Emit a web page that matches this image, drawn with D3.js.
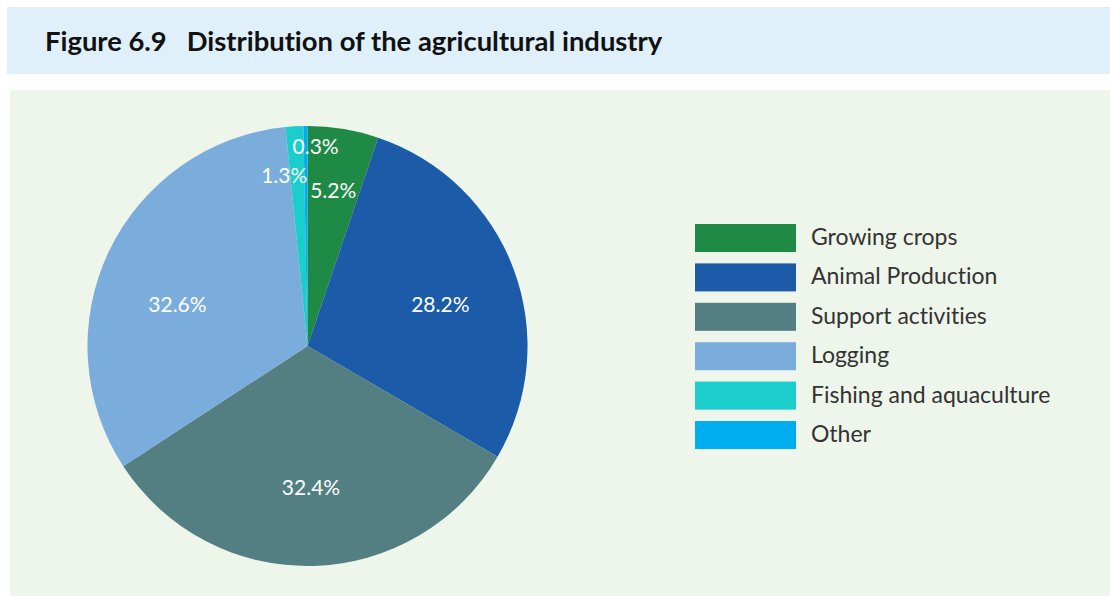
<!DOCTYPE html>
<html>
<head>
<meta charset="utf-8">
<script src="https://cdn.jsdelivr.net/npm/d3@7"></script>
<style>
    body { margin: 0; background: #ffffff; }
    svg { display: block; }
    text { font-variant-ligatures: none; }
</style>
</head>
<body>
<div id="chart"></div>
<script>
const categories = ["Growing crops", "Animal Production", "Support activities", "Logging", "Fishing and aquaculture", "Other"];
const shares = [5.2, 28.2, 32.4, 32.6, 1.3, 0.3];
const sliceColours = ["#1e8a45", "#1b5ba8", "#537e82", "#7aacdc", "#1bcdcd", "#00aeef"];
const title = "Figure 6.9   Distribution of the agricultural industry";

const width = 1110;
const height = 596;

const svg = d3.select("#chart")
    .append("svg")
    .attr("width", width)
    .attr("height", height);

// Title band
svg.append("rect")
    .attr("x", 7).attr("y", 7)
    .attr("width", width - 7).attr("height", 67)
    .attr("fill", "#dff0fb");

svg.append("text")
    .attr("x", 45).attr("y", 51)
    .attr("font-family", "Lato, sans-serif")
    .attr("font-weight", "bold")
    .attr("font-size", 27.4)
    .attr("fill", "#111")
    .attr("xml:space", "preserve")
    .text(title);

// Chart panel
svg.append("rect")
    .attr("x", 10).attr("y", 90)
    .attr("width", width - 10).attr("height", height - 90)
    .attr("fill", "#eef5ea");

const colour = d3.scaleOrdinal().domain(categories).range(sliceColours);

const radius = 220;
const pieGroup = svg.append("g")
    .attr("transform", "translate(307.5,346)");

const pie = d3.pie()
    .value(d => d.value)
    .sort(null);

const data = categories.map((c, i) => ({ name: c, value: shares[i] }));
const arcs = pie(data);

const arc = d3.arc().innerRadius(0).outerRadius(radius);

pieGroup.selectAll("path")
    .data(arcs)
    .join("path")
    .attr("d", arc)
    .attr("fill", d => colour(d.data.name));

// labels: thin slices pushed further out, a few nudged by hand
function labelRadius(d) {
    if (d.data.value < 1) return 0.91 * radius;
    if (d.data.value < 2) return 0.78 * radius;
    if (d.data.value < 10) return 0.72 * radius;
    return 0.63 * radius;
}
const labelNudge = {
    "Other": [10, 0],
    "Fishing and aquaculture": [-13, 0],
    "Animal Production": [3, 6],
    "Support activities": [0, 2],
    "Logging": [-5, 17]
};

pieGroup.selectAll("text")
    .data(arcs)
    .join("text")
    .attr("transform", d => {
        const r = labelRadius(d);
        const a = (d.startAngle + d.endAngle) / 2;
        const n = labelNudge[d.data.name] || [0, 0];
        return `translate(${Math.sin(a) * r + n[0]},${-Math.cos(a) * r + n[1]})`;
    })
    .attr("text-anchor", "middle")
    .attr("dominant-baseline", "central")
    .attr("font-family", "Lato, sans-serif")
    .attr("font-size", 21)
    .attr("fill", "#ffffff")
    .text(d => `${d.data.value}%`);

// Legend
const legend = svg.append("g")
    .attr("transform", "translate(695,224)");

const rowY = d3.scaleBand()
    .domain(categories)
    .range([0, 6 * 39.4])
    .paddingInner(0);

const rows = legend.selectAll("g")
    .data(categories)
    .join("g")
    .attr("transform", d => `translate(0,${rowY(d)})`);

rows.append("rect")
    .attr("width", 101)
    .attr("height", 28)
    .attr("fill", d => colour(d));

rows.append("text")
    .attr("x", 116)
    .attr("y", 12)
    .attr("dominant-baseline", "central")
    .attr("font-family", "Lato, sans-serif")
    .attr("font-size", 23)
    .attr("fill", "#333")
    .text(d => d);
</script>
</body>
</html>
